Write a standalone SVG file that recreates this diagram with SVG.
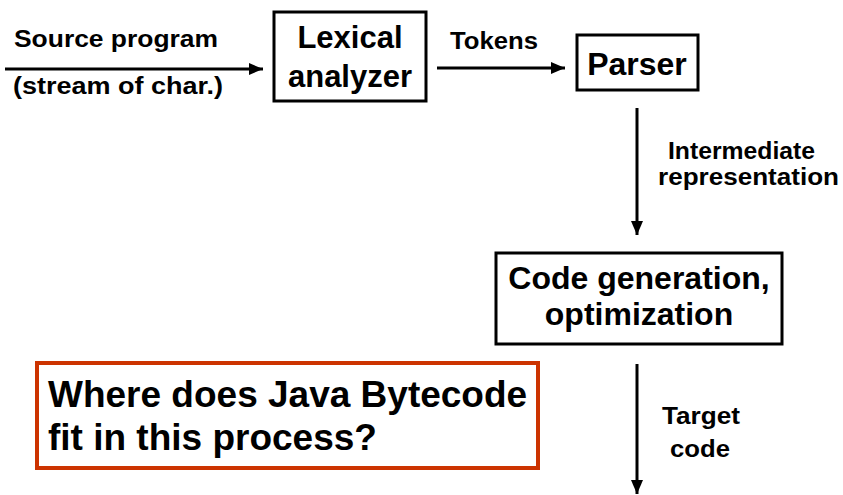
<svg xmlns="http://www.w3.org/2000/svg" width="843" height="495" viewBox="0 0 843 495">
<style>
.box{fill:#fff;stroke:#000;stroke-width:3}
.q{fill:#fff;stroke:#CC3300;stroke-width:4}
.t{font-family:"Liberation Sans",Arial,sans-serif;font-weight:bold;fill:#000}
.lbl{font-size:23px}
.bt{font-size:31px;text-anchor:middle}
.big{font-size:37px}
.ln{stroke:#000;stroke-width:3;fill:none}
</style>
<defs>
<marker id="ah" markerUnits="userSpaceOnUse" markerWidth="15" markerHeight="12" refX="14" refY="6" orient="auto">
<path d="M0,0 L14,6 L0,12 Z" fill="#000"/>
</marker>
</defs>
<g id="connectors">
<line class="ln" x1="5" y1="69" x2="263" y2="69" marker-end="url(#ah)"/>
<line class="ln" x1="437" y1="68" x2="565" y2="68" marker-end="url(#ah)"/>
<line class="ln" x1="637" y1="108" x2="637" y2="235" marker-end="url(#ah)"/>
<line class="ln" x1="637" y1="364" x2="637" y2="494" marker-end="url(#ah)"/>
<text class="t lbl" x="14" y="47" textLength="204" lengthAdjust="spacingAndGlyphs">Source program</text>
<text class="t lbl" x="13" y="94" textLength="210" lengthAdjust="spacingAndGlyphs">(stream of char.)</text>
<text class="t lbl" x="450" y="49" textLength="88" lengthAdjust="spacingAndGlyphs">Tokens</text>
<text class="t lbl" x="668" y="159" textLength="147" lengthAdjust="spacingAndGlyphs">Intermediate</text>
<text class="t lbl" x="658" y="185" textLength="181" lengthAdjust="spacingAndGlyphs">representation</text>
<text class="t lbl" x="662" y="424" textLength="78" lengthAdjust="spacingAndGlyphs">Target</text>
<text class="t lbl" x="670" y="457" textLength="60" lengthAdjust="spacingAndGlyphs">code</text>
</g>
<g id="lexical">
<rect class="box" x="274" y="12" width="152" height="89"/>
<text class="t bt" x="350" y="48">Lexical</text>
<text class="t bt" x="350" y="87">analyzer</text>
</g>
<g id="parser">
<rect class="box" x="577" y="35" width="121" height="55"/>
<text class="t bt" x="637" y="75" style="font-size:32px">Parser</text>
</g>
<g id="codegen">
<rect class="box" x="496" y="253" width="286" height="91"/>
<text class="t bt" x="639" y="289" style="font-size:32px">Code generation,</text>
<text class="t bt" x="639" y="325" style="font-size:32px">optimization</text>
</g>
<g id="question">
<rect class="q" x="37" y="363" width="501" height="105"/>
<text class="t big" x="48" y="407">Where does Java Bytecode</text>
<text class="t big" x="48" y="450">fit in this process?</text>
</g>
</svg>
